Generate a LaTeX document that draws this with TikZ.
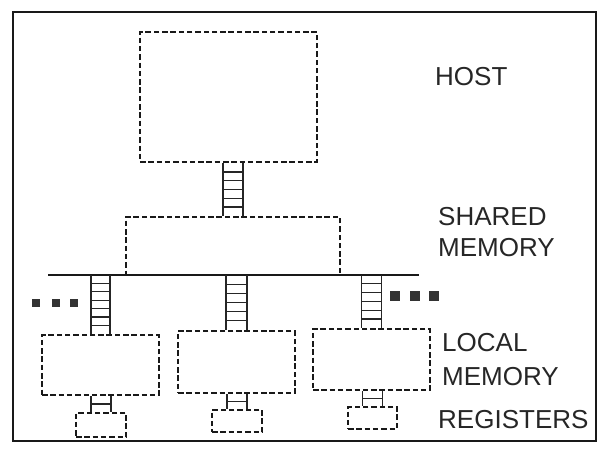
\documentclass[tikz,border=0pt]{standalone}
\usepackage{fontspec}
\setmainfont{Liberation Sans}
\usetikzlibrary{calc}
\newcommand{\ladderdraw}[4]{%
  \draw[rail] ([xshift=-#3]#1) -- ([xshift=-#3]#2);
  \draw[rail] ([xshift=#3]#1) -- ([xshift=#3]#2);
  \foreach \k in {1,...,#4} {
    \draw[rung] ($([xshift=-#3]#1)!\k/(#4+1)!([xshift=-#3]#2)$) -- ($([xshift=#3]#1)!\k/(#4+1)!([xshift=#3]#2)$);
  }%
}
\begin{document}
\begin{tikzpicture}[x=1pt,y=-1pt,
  dbox/.style={draw=black!90, line width=2.1pt, dash pattern=on 5.5pt off 2.8pt, inner sep=0pt, fill=none},
  rail/.style={draw=black!85, line width=1.6pt},
  rung/.style={draw=black!85, line width=1.3pt},
  bus/.style={draw=black!90, line width=2pt},
  lbl/.style={anchor=west, inner sep=0pt, text=black!85, font=\fontsize{26}{28}\selectfont},
  dot/.style={fill=black!80, draw=none, minimum size=#1, inner sep=0pt},
  dot/.default=8.5pt]
\useasboundingbox (0,0) rectangle (603,452);
\draw[line width=2pt, draw=black!90] (13,12) rectangle (596,441);

% boxes
\node[dbox, minimum width=177pt, minimum height=130pt] (host) at (228.5,97) {};
\node[dbox, minimum width=214pt, minimum height=58pt] (shared) at (233,246) {};
\node[dbox, minimum width=117pt, minimum height=60pt] (L1) at (100.5,365) {};
\node[dbox, minimum width=117pt, minimum height=62pt] (L2) at (236.5,362) {};
\node[dbox, minimum width=117pt, minimum height=61pt] (L3) at (371.5,359.5) {};
\node[dbox, minimum width=50pt, minimum height=24pt] (R1) at (101,425) {};
\node[dbox, minimum width=50pt, minimum height=22pt] (R2) at (237,421) {};
\node[dbox, minimum width=49pt, minimum height=22pt] (R3) at (372.5,418) {};

% bus
\coordinate (busL) at (48,275);
\coordinate (busR) at (419,275);
\draw[bus] (busL) -- (busR);

% ladders
\coordinate (th) at (shared.north |- host.south);
\ladderdraw{th}{shared.north}{10pt}{5}
\coordinate (t1) at (L1.north |- busL);
\coordinate (t2) at (L2.north |- busL);
\coordinate (t3) at (L3.north |- busL);
\ladderdraw{t1}{L1.north}{9.5pt}{6}
\ladderdraw{t2}{L2.north}{10.5pt}{5}
\ladderdraw{t3}{L3.north}{10pt}{5}
\coordinate (s1) at (R1.north |- L1.south);
\coordinate (s2) at (R2.north |- L2.south);
\coordinate (s3) at (R3.north |- L3.south);
\ladderdraw{s1}{R1.north}{10pt}{1}
\ladderdraw{s2}{R2.north}{10pt}{1}
\ladderdraw{s3}{R3.north}{10pt}{1}

% ellipsis squares
\node[dot] (a1) at (36,303) {};
\node[dot] (a2) at (56,303) {};
\node[dot] (a3) at (74,303) {};
\node[dot=9.5pt] (b1) at (395,296) {};
\node[dot=9.5pt] (b2) at (415,296) {};
\node[dot=9.5pt] (b3) at (434,296) {};

% labels
\node[lbl] (lhost) at (435,77) {HOST};
\node[lbl] (lsh1) at (438,217) {SHARED};
\node[lbl] (lsh2) at (438,248) {MEMORY};
\node[lbl] (llo1) at (442,343) {LOCAL};
\node[lbl] (llo2) at (442,377) {MEMORY};
\node[lbl] (lreg) at (438,420) {REGISTERS};
\end{tikzpicture}
\end{document}
